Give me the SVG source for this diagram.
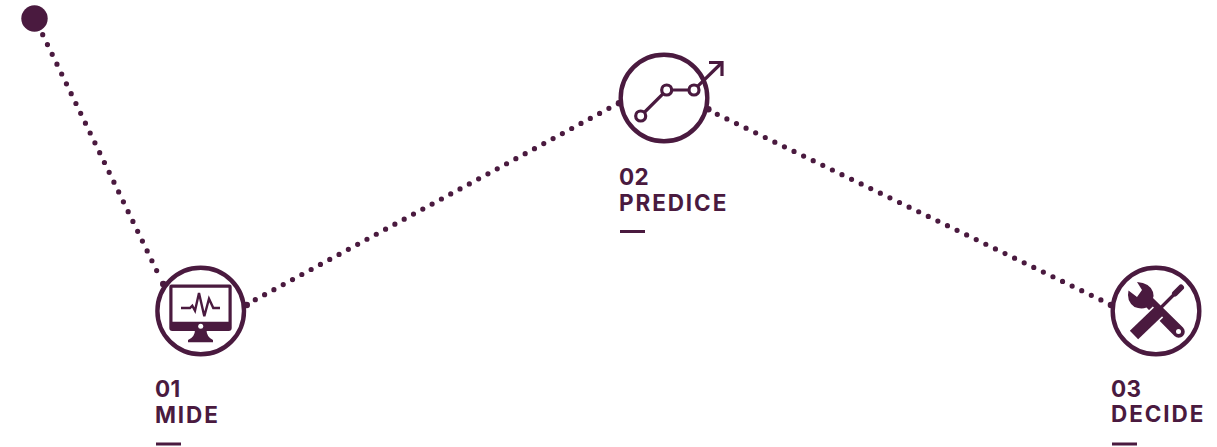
<svg xmlns="http://www.w3.org/2000/svg" width="1217" height="447" viewBox="0 0 1217 447">
<style>
.ring{fill:#fff;stroke:#4a1a3f;stroke-width:4.400}
.link{fill:none;stroke:#4a1a3f;stroke-width:5.200;stroke-linecap:round;stroke-dasharray:0 1}
.lbl{font-family:"Inter","Liberation Sans",sans-serif;font-weight:700;font-size:22.500px;letter-spacing:1.900px;fill:#4a1a3f}
.num{letter-spacing:0.300px}
.solid{fill:#4a1a3f}
.ln{fill:none;stroke:#4a1a3f;stroke-width:3.200}
.hole{fill:#fff;stroke:#4a1a3f;stroke-width:3.200}
</style>
<g id="connectors">
<path class="link" pathLength="24.010" d="M42.700 34.700L156.700 270.700"/>
<path class="link" pathLength="38.010" d="M255.300 299.700L609 108.300"/>
<path class="link" pathLength="40.010" d="M717.300 114.300L1101 300"/>
<circle class="solid" cx="163.300" cy="284" r="3.300"/>
<circle class="solid" cx="246.700" cy="305" r="3.300"/>
<circle class="solid" cx="619" cy="103.300" r="3.300"/>
<circle class="solid" cx="708.300" cy="109.300" r="3.300"/>
<circle class="solid" cx="1111" cy="305" r="3.300"/>
</g>
<g id="start"><circle class="solid" cx="34.500" cy="18.500" r="13.200"/></g>
<g id="node-01">
<circle class="ring" cx="200.700" cy="311" r="43.300"/>
<path class="solid" fill-rule="evenodd" d="M171.500 284.500H229.500Q231.700 284.500 231.700 286.700V328Q231.700 331 228.700 331H172.300Q169.300 331 169.300 328V286.700Q169.300 284.500 171.500 284.500ZM172.500 287.700V321.700H228.500V287.700Z"/>
<path class="solid" d="M195 330H206.500Q206.500 337 213 340V342.300H188V340Q195 337 195 330Z"/>
<circle cx="200.700" cy="326.300" r="2.500" fill="#fff"/>
<path d="M181 308H190L192.300 305.700L195 310.700L199 293L204.300 316.300L209 298.700L213.300 308H220" fill="none" stroke="#4a1a3f" stroke-width="2.400"/>
<text class="lbl num" x="155" y="397">01</text>
<text class="lbl" x="155" y="423">MIDE</text>
<rect class="solid" x="156" y="442.500" width="25" height="3"/>
</g>
<g id="node-02">
<circle class="ring" cx="664" cy="98" r="43.300"/>
<path class="ln" d="M640.700 116L666.700 90H694L722 62.500"/>
<path class="ln" d="M709 62.500H722V76"/>
<circle class="hole" cx="640.700" cy="116" r="5"/>
<circle class="hole" cx="666.700" cy="90" r="5"/>
<circle class="hole" cx="694" cy="90" r="5"/>
<text class="lbl num" x="619" y="185">02</text>
<text class="lbl" x="619" y="211">PREDICE</text>
<rect class="solid" x="620" y="230" width="25" height="3"/>
</g>
<g id="node-03">
<circle class="ring" cx="1156" cy="311" r="43.300"/>
<path class="solid" d="M1137 282Q1150 283 1153 292Q1154 296 1153 298L1183 327.500A6 6 0 0 1 1174.500 336L1146.500 307.500Q1141 309.500 1134.500 307Q1126 301 1128.500 290.500L1137 297L1142 290Z"/>
<circle cx="1178.500" cy="331.500" r="2.500" fill="#fff"/>
<path d="M1158 312L1135 334" fill="none" stroke="#fff" stroke-width="15"/>
<path d="M1158.500 311.500L1134 335" fill="none" stroke="#4a1a3f" stroke-width="12"/>
<path d="M1177 291.500L1158 310.500" fill="none" stroke="#4a1a3f" stroke-width="3.200"/>
<path d="M1181 287.500L1175 293.500" fill="none" stroke="#4a1a3f" stroke-width="6" stroke-linecap="round"/>
<text class="lbl num" x="1111" y="397">03</text>
<text class="lbl" x="1111" y="422">DECIDE</text>
<rect class="solid" x="1112" y="442.500" width="25" height="3"/>
</g>
</svg>
